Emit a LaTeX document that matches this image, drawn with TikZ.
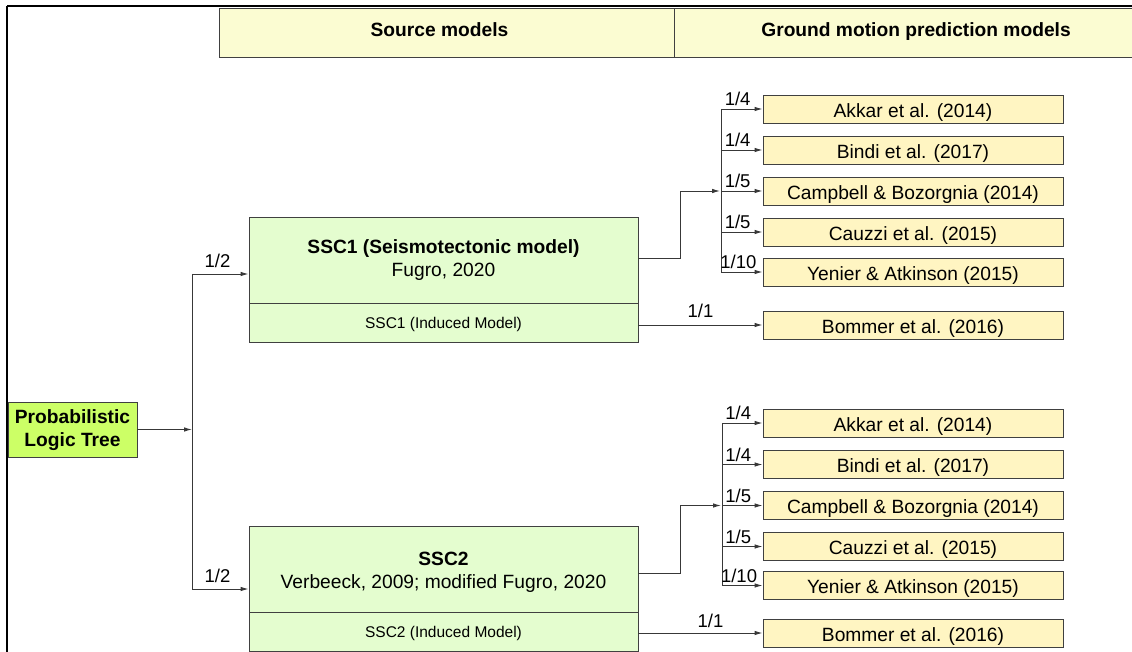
\documentclass[tikz,border=0pt]{standalone}
\usepackage{fontspec}
\setmainfont{Liberation Sans}
\usetikzlibrary{arrows.meta,calc}
\definecolor{hdrfill}{HTML}{FBFCD2}
\definecolor{gmfill}{HTML}{FFF5C2}
\definecolor{sscfill}{HTML}{E4FDCF}
\definecolor{rootfill}{HTML}{CCFF66}
\definecolor{bord}{HTML}{404040}
\definecolor{linec}{HTML}{383838}
\begin{document}
\begin{tikzpicture}[x=1pt,y=-1pt,
  box/.style={draw=bord, line width=0.9pt, inner sep=0pt},
  hdr/.style={box, fill=hdrfill, minimum height=49pt, text height=13.8pt, text depth=5pt, font=\fontsize{19.2}{23}\selectfont\bfseries},
  gm/.style={box, fill=gmfill, minimum width=300pt, minimum height=28pt, text height=19pt, text depth=2.2pt, font=\fontsize{19.2}{23}\selectfont},
  ssc/.style={box, align=center, fill=sscfill, minimum width=389pt, minimum height=86pt, text depth=4pt, font=\fontsize{19.2}{23}\selectfont},
  sscind/.style={box, fill=sscfill, minimum width=389pt, minimum height=39pt, text height=12.1pt, text depth=1pt, font=\fontsize{15.5}{18}\selectfont},
  rootbox/.style={box, align=center, fill=rootfill, minimum width=129pt, minimum height=55pt, text height=38.8pt, text depth=4pt, font=\fontsize{19.2}{23}\selectfont\bfseries},
  conn/.style={draw=linec, line width=0.9pt},
  arr/.style={conn, -{Latex[length=8pt,width=4.5pt]}},
  wt/.style={font=\fontsize{18.5}{22}\selectfont, inner sep=0pt, text height=13pt, text depth=0pt, anchor=south, yshift=3pt, text=black}]
\useasboundingbox (0,0) rectangle (1132,652);
\begin{scope}
\clip (0,0) rectangle (1132,652);
% frame
\draw[line width=2pt] (7,6) -- (1150,6);
\draw[line width=2pt] (7,6) -- (7,670);
% header
\node[hdr, minimum width=455pt] (hs) at (446.5,32.5) {\hspace*{-14pt}Source models};
\node[hdr, minimum width=484pt] (hg) at (916,32.5) {Ground motion prediction models};
% root
\node[rootbox] (root) at (72.5,429.5) {Probabilistic\\Logic Tree};
% source models
\node[ssc, text height=37.8pt] (s1) at (443.5,260) {{\bfseries SSC1 (Seismotectonic model)}\\Fugro, 2020};
\node[sscind] (s1i) at (443.5,322.5) {SSC1 (Induced Model)};
\node[ssc, text height=43.8pt] (s2) at (443.5,569) {{\bfseries SSC2}\\Verbeeck, 2009; modified Fugro, 2020};
\node[sscind] (s2i) at (443.5,631.5) {SSC2 (Induced Model)};
% GMPEs group 1
\node[gm] (a1) at (913,109) {Akkar et al. (2014)};
\node[gm] (a2) at (913,150) {Bindi et al. (2017)};
\node[gm] (a3) at (913,191) {Campbell \& Bozorgnia (2014)};
\node[gm] (a4) at (913,232) {Cauzzi et al. (2015)};
\node[gm] (a5) at (913,272) {Yenier \& Atkinson (2015)};
\node[gm] (m1) at (913,325) {Bommer et al. (2016)};
% GMPEs group 2
\node[gm] (c1) at (913,423) {Akkar et al. (2014)};
\node[gm] (c2) at (913,464.5) {Bindi et al. (2017)};
\node[gm] (c3) at (913,505.5) {Campbell \& Bozorgnia (2014)};
\node[gm] (c4) at (913,546.5) {Cauzzi et al. (2015)};
\node[gm] (c5) at (913,585.5) {Yenier \& Atkinson (2015)};
\node[gm] (m2) at (913,633) {Bommer et al. (2016)};
% root connectors
\coordinate (j) at (192,429.5);
\coordinate (ja) at (192,274);
\coordinate (jb) at (192,589);
\draw[arr] (root.east) -- (j);
\draw[conn] (ja) -- (jb);
\draw[arr] (ja) -- (s1.west |- ja) node[wt, pos=0.45, yshift=3pt]{1/2};
\draw[arr] (jb) -- (s2.west |- jb) node[wt, pos=0.45, yshift=3pt]{1/2};
% group 1 connectors
\coordinate (bus1) at (721,0);
\coordinate (b1) at (720,191);
\draw[arr] ([yshift=2pt]s1.east) -- ++(42,0) |- (b1);
\draw[conn] (bus1 |- a1.west) -- (bus1 |- a5.west);
\draw[arr] (bus1 |- a1.west) -- (a1.west) node[wt, pos=0.4]{1/4};
\draw[arr] (bus1 |- a2.west) -- (a2.west) node[wt, pos=0.4]{1/4};
\draw[arr] (bus1 |- a3.west) -- (a3.west) node[wt, pos=0.4]{1/5};
\draw[arr] (bus1 |- a4.west) -- (a4.west) node[wt, pos=0.4]{1/5};
\draw[arr] (bus1 |- a5.west) -- (a5.west) node[wt, pos=0.42]{1/10};
\draw[arr] (s1i.east |- m1.west) -- (m1.west) node[wt, midway, yshift=4pt]{1/1};
% group 2 connectors
\coordinate (bus2) at (722,0);
\coordinate (b2) at (721,505.5);
\draw[arr] ([yshift=-4pt]s2.east) -- ++(42,0) |- (b2);
\draw[conn] (bus2 |- c1.west) -- (bus2 |- c5.west);
\draw[arr] (bus2 |- c1.west) -- (c1.west) node[wt, pos=0.4]{1/4};
\draw[arr] (bus2 |- c2.west) -- (c2.west) node[wt, pos=0.4]{1/4};
\draw[arr] (bus2 |- c3.west) -- (c3.west) node[wt, pos=0.4]{1/5};
\draw[arr] (bus2 |- c4.west) -- (c4.west) node[wt, pos=0.4]{1/5};
\draw[arr] (bus2 |- c5.west) -- (c5.west) node[wt, pos=0.42]{1/10};
\draw[arr] (s2i.east |- m2.west) -- (m2.west) node[wt, pos=0.58, yshift=2pt]{1/1};
\end{scope}
\end{tikzpicture}
\end{document}
